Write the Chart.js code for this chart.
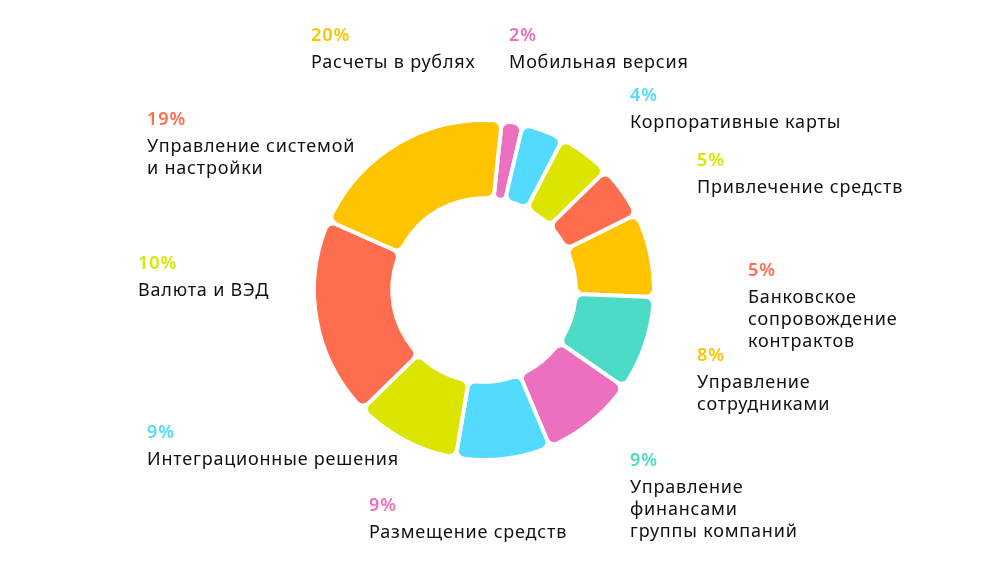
<!DOCTYPE html>
<html>
<head>
<meta charset="utf-8">
<script src="https://cdn.jsdelivr.net/npm/chart.js@4.4.0/dist/chart.umd.min.js"></script>
<style>
  html, body { margin: 0; padding: 0; background: #fff; }
  #wrap { width: 1000px; height: 584px; position: relative; }
</style>
</head>
<body>
<div id="wrap"><canvas id="donut" width="1000" height="584"></canvas></div>
<script>
// Категории по часовой стрелке, начиная с "Мобильная версия"
const categories = [
    ['Мобильная версия'],
    ['Корпоративные карты'],
    ['Привлечение средств'],
    ['Банковское', 'сопровождение', 'контрактов'],
    ['Управление', 'сотрудниками'],
    ['Управление', 'финансами', 'группы компаний'],
    ['Размещение средств'],
    ['Интеграционные решения'],
    ['Валюта и ВЭД'],
    ['Управление системой', 'и настройки'],
    ['Расчеты в рублях']
];
const shares = [2, 4, 5, 5, 8, 9, 9, 9, 10, 19, 20];
const colors = ['#ED6FBF', '#52DAFF', '#DCE500', '#FF6D4F', '#FFC400', '#4CDBC4',
                '#ED6FBF', '#52DAFF', '#DCE500', '#FF6D4F', '#FFC400'];

// Положение подписей (левый край текста, центр строки с процентом)
const labelPos = [
    [509, 36], [630, 96], [697, 161], [748, 271], [697, 356], [630, 461],
    [369, 506], [147, 433], [138, 264], [147, 120], [311, 36]
];

const fontFamily = '"Noto Sans", "Open Sans", sans-serif';

// Плагин для подписей вокруг кольца
const outsideLabels = {
    id: 'outsideLabels',
    afterDraw(chart) {
        const ctx = chart.ctx;
        ctx.save();
        ctx.textAlign = 'left';
        ctx.textBaseline = 'middle';
        shares.forEach((v, i) => {
            const [x, y] = labelPos[i];
            ctx.fillStyle = colors[i];
            ctx.font = '600 18px ' + fontFamily;
            ctx.letterSpacing = '1px';
            ctx.fillText(v + '%', x, y);
            ctx.fillStyle = '#111';
            ctx.font = '400 18px ' + fontFamily;
            ctx.letterSpacing = '0.8px';
            categories[i].forEach((line, j) => {
                ctx.fillText(line, x, y + 27 + j * 22);
            });
        });
        ctx.restore();
    }
};

new Chart(document.getElementById('donut'), {
    type: 'doughnut',
    data: {
        labels: categories.map(c => c.join(' ')),
        datasets: [{
            data: shares,
            backgroundColor: colors,
            borderColor: '#ffffff',
            borderWidth: 4,
            borderJoinStyle: 'round',
            borderRadius: 8,
            spacing: 0
        }]
    },
    options: {
        responsive: false,
        animation: false,
        rotation: 6,
        cutout: '54%',
        layout: {
            padding: { left: 312, right: 344, top: 118, bottom: 122 }
        },
        plugins: {
            legend: { display: false },
            tooltip: { enabled: false }
        }
    },
    plugins: [outsideLabels]
});
</script>
</body>
</html>
